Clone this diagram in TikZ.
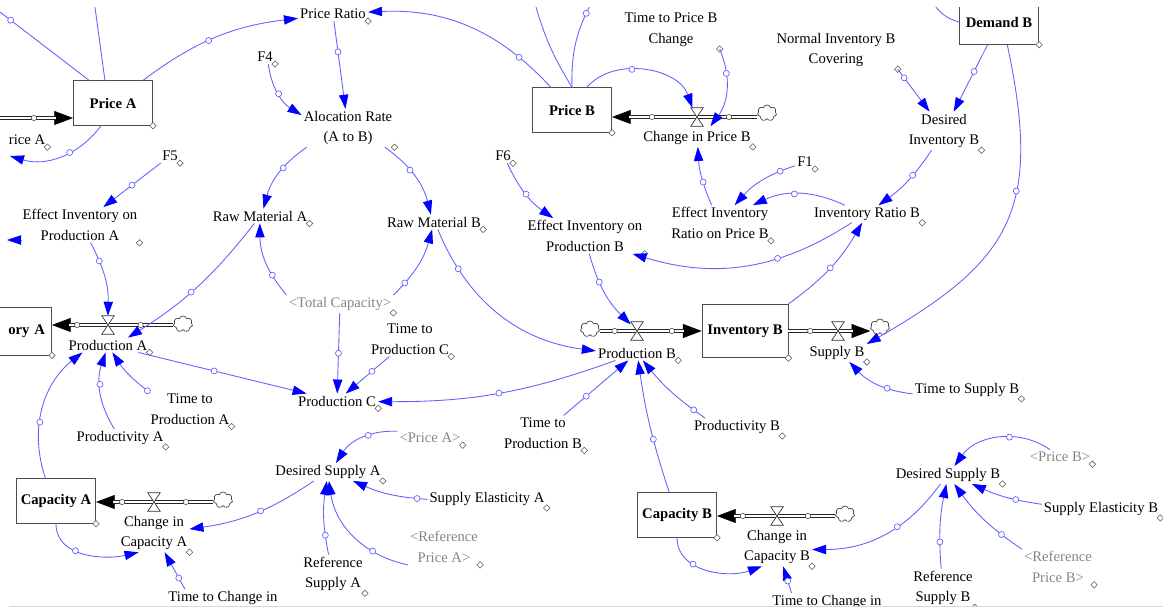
\documentclass[tikz,border=0pt]{standalone}
\usepackage{fontspec}
\setmainfont{Liberation Serif}
\usetikzlibrary{arrows.meta,shapes.geometric,shapes.symbols}
\newcommand{\vfont}{\fontsize{11}{15.5}\selectfont}
\colorlet{linkblue}{blue!62}
\tikzset{
  txt/.style={font=\vfont, align=center, inner sep=1.5pt},
  corner/.style={label={[diam]south east:}},
  var/.style={txt, corner},
  ghost/.style={var, text=black!48},
  stock/.style={draw=black!70, line width=0.6pt, font=\vfont\bfseries, minimum width=59.5pt, minimum height=33.5pt, inner sep=0pt, corner},
  diam/.style={diamond, draw=black!65, fill=white, line width=0.4pt, inner sep=0pt, minimum size=5pt, anchor=center},
  valve/.style={inner sep=0pt, minimum width=9pt, minimum height=13.5pt},
  cloudy/.style={cloud, cloud puffs=7, aspect=1.15, draw=black!75, fill=white, line width=0.5pt, inner sep=0pt, minimum width=14.5pt, minimum height=12pt},
  pipe/.style={draw=black!85, line width=0.55pt, double=white, double distance=2.1pt},
  flowhead/.style={line width=0.4pt, -{Triangle[length=14pt,width=10.5pt]}},
  pipedot/.style={circle, draw=black!70, fill=white, line width=0.4pt, inner sep=0pt, minimum size=4pt},
  wire/.style={draw=linkblue, line width=0.65pt},
  link/.style={wire, -{Triangle[length=10.5pt,width=7pt,color=blue]}},
  handle/.style={circle, draw=linkblue, fill=white, line width=0.5pt, inner sep=0pt, minimum size=4.5pt}
}
\begin{document}
\begin{tikzpicture}[x=0.75pt, y=-0.75pt]
\useasboundingbox (0,0) rectangle (1163,609);
\draw[black!15, line width=0.75pt] (9,606) -- (1163,606);
\begin{scope}
\clip (0,8) rectangle (1163,605);
% stocks
\node[stock] (pA) at (113,103) {Price A};
\node[stock] (pB) at (572,110) {Price B};
\node[stock, minimum width=64.5pt, minimum height=40pt] (invB) at (745,331) {Inventory B};
\node[stock] (demB) at (999,22) {Demand B};
\node[stock] (capA) at (56,501) {Capacity A};
\node[stock] (capB) at (677,515) {Capacity B};
\node[stock, anchor=east, text width=56pt, align=right, inner xsep=5pt, minimum height=36pt] (invA) at (52,331) {ory A};
% flows
\node[var] (chPA) at (27,140) {rice A};
\node[var] (prodA) at (108,345) {Production A};
\node[var] (prodB) at (637,353) {Production B};
\node[var] (supB) at (837,353) {Supply B};
\node[var] (chPB) at (697,138) {Change in Price B};
\node[var] (chCapA) at (154,533) {Change in\\Capacity A};
\node[var] (chCapB) at (777,547) {Change in\\Capacity B};
\node[valve] (vPA) at (108,325) {};
\node[valve] (vPB) at (637,331) {};
\node[valve] (vSB) at (838,331) {};
\node[valve] (vCPB) at (697,117) {};
\node[valve] (vCCA) at (154,502) {};
\node[valve] (vCCB) at (777,516) {};
\node[cloudy] (cPA) at (183,324) {};
\node[cloudy] (cPB) at (590,329) {};
\node[cloudy] (cSB) at (880,327) {};
\node[cloudy] (cCPB) at (767,113) {};
\node[cloudy] (cCCA) at (223,500) {};
\node[cloudy] (cCCB) at (845,514) {};
% auxiliaries
\node[var] (pRatio) at (333,14) {Price Ratio};
\node[var] (f4) at (265,57) {F4};
\node[var] (alloc) at (348,128) {Alocation Rate\\(A to B)};
\node[var] (f5) at (170,156) {F5};
\node[var] (effA) at (80,225) {Effect Inventory on\\Production A};
\node[var] (rmA) at (260,216) {Raw Material A};
\node[var] (rmB) at (434,222) {Raw Material B};
\node[ghost] (totCap) at (340,304) {<Total Capacity>};
\node[var] (tpC) at (410,339) {Time to\\Production C};
\node[var] (prodC) at (337,401) {Production C};
\node[var] (tpA) at (190,409) {Time to\\Production A};
\node[var] (ptyA) at (120,438) {Productivity A};
\node[var] (dsA) at (328,472) {Desired Supply A};
\node[ghost] (prA) at (430,438) {<Price A>};
\node[var] (seA) at (487,499) {Supply Elasticity A};
\node[ghost] (rpA) at (444,547) {<Reference\\Price A>};
\node[var] (rsA) at (333,574) {Reference\\Supply A};
\node[txt] (tcA) at (223,598) {Time to Change in};
\node[var] (tpB) at (543,433) {Time to\\Production B};
\node[var] (ptyB) at (737,427) {Productivity B};
\node[txt] (tcB) at (827,602) {Time to Change in};
\node[var] (dsB) at (948,475) {Desired Supply B};
\node[ghost] (prB) at (1060,457) {<Price B>};
\node[var] (seB) at (1101,509) {Supply Elasticity B};
\node[ghost] (rpB) at (1058,567) {<Reference\\Price B>};
\node[var] (rsB) at (943,588) {Reference\\Supply B};
\node[var] (tsB) at (967,390) {Time to Supply B};
\node[var] (effB) at (585,236) {Effect Inventory on\\Production B};
\node[var] (f6) at (503,156) {F6};
\node[var] (eirB) at (720,223) {Effect Inventory\\Ratio on Price B};
\node[var] (f1) at (805,162) {F1};
\node[var] (irB) at (867,214) {Inventory Ratio B};
\node[var] (dInvB) at (944,131) {Desired\\Inventory B};
\node[var] (nibc) at (836,50) {Normal Inventory B\\Covering};
\node[var] (tpbc) at (671,30) {Time to Price B\\Change};
% free ends at the border
\coordinate (cpAin) at (-5,118);
\coordinate (cpAv) at (10,156);
\coordinate (eA1) at (0,12);
\coordinate (eA2) at (94,0);
\coordinate (eB1) at (534,0);
\coordinate (eB2) at (593,0);
\coordinate (eD) at (933,3);
\coordinate (eL1) at (22,240);
\coordinate (eL2) at (7,240);
% pipes
\draw[flowhead] (cpAin) -- (pA.west |- cpAin);
\draw[pipe, shorten >=13pt] (cpAin) -- node[pipedot, pos=.5]{} (pA.west |- cpAin);
\draw[flowhead] (vPA.center) -- (invA.east |- vPA);
\draw[pipe, shorten >=13pt] (cPA.west |- vPA) -- node[pipedot, pos=.5]{} (vPA.center) -- node[pipedot, pos=.55]{} (invA.east |- vPA);
\draw[flowhead] (vPB.center) -- (invB.west |- vPB);
\draw[pipe, shorten >=13pt] (cPB.east |- vPB) -- node[pipedot, pos=.4]{} (vPB.center) -- node[pipedot, pos=.54]{} (invB.west |- vPB);
\draw[flowhead] (vSB.center) -- (cSB.west |- vSB);
\draw[pipe, shorten >=13pt] (invB.east |- vSB) -- node[pipedot, pos=.44]{} (vSB.center) -- (cSB.west |- vSB);
\draw[flowhead] (vCPB.center) -- (pB.east |- vCPB);
\draw[pipe, shorten >=13pt] (cCPB.west |- vCPB) -- node[pipedot, pos=.47]{} (vCPB.center) -- node[pipedot, pos=.53]{} (pB.east |- vCPB);
\draw[flowhead] (vCCA.center) -- (capA.east |- vCCA);
\draw[pipe, shorten >=13pt] (cCCA.west |- vCCA) -- node[pipedot, pos=.46]{} (vCCA.center) -- node[pipedot, pos=.55]{} (capA.east |- vCCA);
\draw[flowhead] (vCCB.center) -- (capB.east |- vCCB);
\draw[pipe, shorten >=13pt] (cCCB.west |- vCCB) -- node[pipedot, pos=.47]{} (vCCB.center) -- node[pipedot, pos=.57]{} (capB.east |- vCCB);
\foreach \v in {vPA,vPB,vSB,vCPB,vCCA,vCCB}
  \draw[black!80, fill=white, line width=0.5pt] (\v.north west) -- (\v.north east) -- (\v.south west) -- (\v.south east) -- cycle;
% links, upper half
\draw[wire] ([xshift=12pt]pA.north west) -- node[handle, pos=.88]{} (eA1);
\draw[wire] ([xshift=24pt]pA.north west) -- (eA2);
\draw[link] (pA) to[bend left=35] node[handle, pos=.4]{} (cpAv);
\draw[link] (pA) to[bend left=15] node[handle, pos=.45]{} (pRatio);
\draw[wire] (pB.north) to[bend left=8] (eB1);
\draw[wire] (pB.north) to[bend left=15] node[handle, pos=.85]{} (eB2);
\draw[wire] (demB.west) to[bend left=20] (eD);
\draw[link] (eL1) -- (eL2);
\draw[link] (pB) to[bend right=25] node[handle, pos=.2]{} (pRatio);
\draw[link] (pRatio) -- node[handle, pos=.35]{} (alloc);
\draw[link] (f4) to[bend right=25] node[handle]{} (alloc);
\draw[link] (alloc) to[bend right=20] node[handle, pos=.4]{} (rmA);
\draw[link] (alloc) to[bend left=20] node[handle, pos=.4]{} (rmB);
\draw[link] (f5) -- node[handle]{} (effA);
\draw[link] (effA) to[bend left=15] node[handle, pos=.25]{} (vPA);
\draw[link] (rmA) to[bend left=10] node[handle, pos=.55]{} ([xshift=15pt]prodA.north);
\draw[link] (totCap.north west) to[bend left=20] node[handle, pos=.3]{} (rmA);
\draw[link] (totCap.north east) to[bend right=15] node[handle, pos=.2]{} (rmB);
\draw[link] (totCap) -- node[handle]{} (prodC);
\draw[link] (tpC) -- node[handle, pos=.4]{} (prodC);
\draw[link] (prodA) -- node[handle, pos=.45]{} (prodC);
\draw[link] (prodB) to[bend left=10] node[handle]{} (prodC);
\draw[link] (rmB) to[bend right=30] node[handle, pos=.2]{} (prodB);
\draw[link] (f6) to[bend right=15] node[handle]{} (effB);
\draw[link] (effB) to[bend right=15] node[handle, pos=.35]{} (vPB);
\draw[link] (irB) to[bend left=25] node[handle, pos=.35]{} (effB);
\draw[link] (invB.north east) to[bend right=12] node[handle]{} (irB);
\draw[link] (demB.-70) to[out=-78, in=30, looseness=1.3] node[handle, pos=.38]{} (supB.north east);
\draw[link] (tsB) to[bend left=20] node[handle, pos=.35]{} (supB);
\draw[link] (pB) to[bend left=60] node[handle, pos=.4]{} (vCPB);
\draw[link] (tpbc.south east) to[bend left=30] node[handle, pos=.3]{} ([xshift=10pt]vCPB.south);
\draw[link] (eirB) to[bend left=10] node[handle, pos=.4]{} (chPB);
\draw[link] (f1) to[bend right=15] node[handle, pos=.2]{} (eirB);
\draw[link] (irB) to[bend right=25] node[handle, pos=.55]{} (eirB);
\draw[link] (nibc.south east) -- node[handle, pos=.2]{} (dInvB);
\draw[link] (demB) -- node[handle, pos=.4]{} (dInvB);
\draw[link] (dInvB) to[bend left=10] node[handle, pos=.4]{} (irB);
% links, lower half
\draw[link] (capA) to[bend left=35] node[handle, pos=.4]{} ([xshift=12pt]prodA.south west);
\draw[link] (ptyA) to[bend left=25] node[handle, pos=.6]{} (prodA);
\draw[link] (tpA.north west) to[bend left=10] node[handle, pos=.02]{} (prodA);
\draw[link] (capA) to[out=-90, in=-167] node[handle, pos=.4]{} ([xshift=15pt]chCapA.south west);
\draw[link] ([xshift=14pt]tcA.north west) -- node[handle, pos=.3]{} (chCapA);
\draw[link] (dsA) to[bend left=13] node[handle, pos=.45]{} (chCapA);
\draw[link] (prA) to[bend right=30] node[handle, pos=.4]{} (dsA);
\draw[link] (seA) to[bend left=10] node[handle, pos=.12]{} (dsA);
\draw[link] (rpA.south west) to[bend left=35] node[handle, pos=.3]{} (dsA);
\draw[link] (rsA) to[bend left=10] node[handle, pos=.25]{} (dsA);
\draw[link] (capB) to[bend left=5] node[handle, pos=.4]{} (prodB);
\draw[link] (tpB) -- node[handle, pos=.35]{} (prodB);
\draw[link] ([xshift=10pt]ptyB.north west) to[bend left=8] node[handle, pos=.15]{} (prodB);
\draw[link] (capB) to[out=-90, in=-160] node[handle, pos=.35]{} ([xshift=15pt]chCapB.south west);
\draw[link] ([xshift=16pt]tcB.north west) -- node[handle, pos=.45]{} (chCapB);
\draw[link] (dsB) to[bend left=27] node[handle, pos=.4]{} (chCapB);
\draw[link] (prB) to[bend right=45] node[handle, pos=.4]{} (dsB);
\draw[link] (seB) to[bend left=8] node[handle, pos=.35]{} (dsB);
\draw[link] (rpB.north west) to[bend left=10] node[handle, pos=.25]{} (dsB);
\draw[link] (rsB) to[bend left=8] node[handle, pos=.3]{} (dsB);
\end{scope}
\end{tikzpicture}
\end{document}
